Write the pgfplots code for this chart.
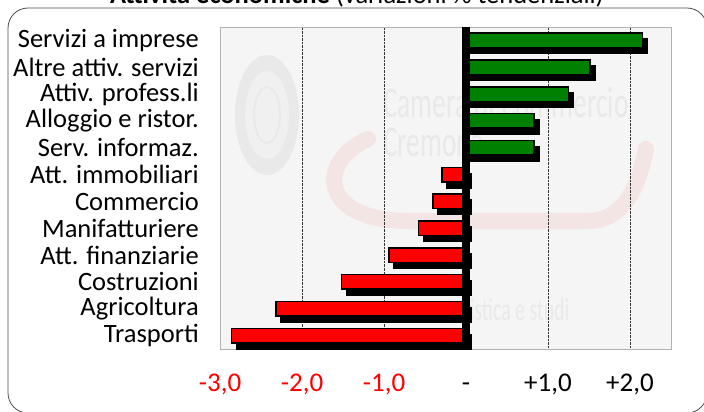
\documentclass[border=0pt]{standalone}
\usepackage{pgfplots}
\pgfplotsset{compat=1.18}
\usepackage{fontspec}
\setmainfont{Carlito}
\definecolor{barred}{RGB}{255,0,0}
\definecolor{bargreen}{RGB}{0,128,0}
\definecolor{plotbg}{RGB}{245,245,245}
\definecolor{wmgray}{RGB}{233,233,233}
\definecolor{wmpink}{RGB}{244,229,229}
\begin{document}
\begin{tikzpicture}[x=1bp,y=1bp]
\useasboundingbox (0,0) rectangle (704,411);
% frame
\draw[gray!60!black, line width=0.8bp, rounded corners=20bp] (8,-2) rectangle (707,403);
% title (partly cropped)
\node[anchor=base, inner sep=0pt] at (357,407) {\fontsize{26.5bp}{30bp}\selectfont\textbf{Attività economiche} (variazioni \% tendenziali)};
% plot background
\fill[plotbg] (220,62) rectangle (671,384);
% watermark
\fill[wmgray] (267,296) ellipse [x radius=32, y radius=60];
\fill[plotbg!60!wmgray] (267,296) ellipse [x radius=22, y radius=44];
\draw[wmgray, line width=2bp] (267,296) ellipse [x radius=13, y radius=28];
\draw[wmpink, line width=16bp, line cap=round] (368,272) .. controls (318,250) and (318,192) .. (405,190) -- (590,190) .. controls (628,192) and (640,232) .. (646,262);
\node[wmgray, anchor=west, inner sep=0pt, xscale=0.62] at (383,309) {\fontsize{44bp}{44bp}\selectfont Camera di Commercio};
\node[wmgray, anchor=west, inner sep=0pt, xscale=0.62] at (383,269) {\fontsize{44bp}{44bp}\selectfont Cremona};
\node[wmgray, anchor=west, inner sep=0pt, xscale=0.62] at (440,101) {\fontsize{32bp}{32bp}\selectfont statistica e studi};
\begin{axis}[
  at={(220bp,62bp)}, anchor=south west,
  scale only axis, width=451bp, height=322bp,
  xmin=-3, xmax=2.5, ymin=-0.5, ymax=11.5,
  xtick={-3,-2,-1,0,1,2},
  xticklabels={{\textcolor{barred}{-3,0}},{\textcolor{barred}{-2,0}},{\textcolor{barred}{-1,0}},{-},{+1,0},{+2,0}},
  ytick={0,1,2,3,4,5,6,7,8,9,10,11},
  yticklabels={Trasporti,Agricoltura,Costruzioni,Att. finanziarie,Manifatturiere,Commercio,Att. immobiliari,Serv. informaz.,Alloggio e ristor.,Attiv. profess.li,Altre attiv. servizi,Servizi a imprese},
  major tick length=0pt,
  tick style={draw=none},
  xticklabel style={font=\fontsize{27bp}{30bp}\selectfont, anchor=base, inner sep=0pt, yshift=-42bp},
  yticklabel style={font=\fontsize{26.5bp}{28bp}\selectfont, anchor=east, inner sep=0pt, xshift=-21bp},
  xmajorgrids,
  grid style={densely dotted, gray!40!black, line width=0.7bp},
  axis line style={gray!60, line width=0.8bp},
]
% shadows
\addplot[xbar, bar shift=0pt, bar width=14.5bp, fill=black, draw=black, line width=1.5bp, xshift=5bp, yshift=-6bp]
  coordinates {(2.15,11) (1.51,10) (1.25,9) (0.83,8) (0.83,7)};
\addplot[xbar, bar shift=0pt, bar width=14.5bp, fill=black, draw=black, line width=1.5bp, xshift=5bp, yshift=-6bp]
  coordinates {(-0.29,6) (-0.40,5) (-0.58,4) (-0.94,3) (-1.52,2) (-2.32,1) (-2.86,0)};
% bars
\addplot[xbar, bar shift=0pt, bar width=14.5bp, fill=bargreen, draw=black, line width=1.5bp]
  coordinates {(2.15,11) (1.51,10) (1.25,9) (0.83,8) (0.83,7)};
\addplot[xbar, bar shift=0pt, bar width=14.5bp, fill=barred, draw=black, line width=1.5bp]
  coordinates {(-0.29,6) (-0.40,5) (-0.58,4) (-0.94,3) (-1.52,2) (-2.32,1) (-2.86,0)};
% zero line
\draw[black, line width=8.5bp] (axis cs:0,-0.5) -- (axis cs:0,11.5);
\end{axis}
\end{tikzpicture}
\end{document}
